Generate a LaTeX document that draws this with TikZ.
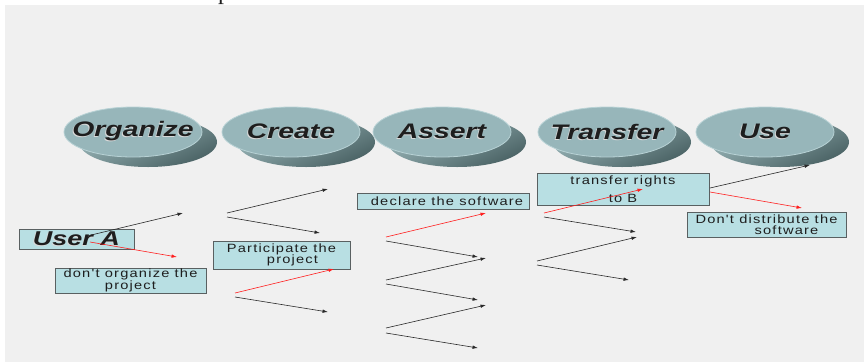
\documentclass[tikz,border=0pt]{standalone}
\usepackage{fontspec}
\setmainfont{Liberation Sans}
\newfontfamily\stagefont{Liberation Sans}[FakeStretch=1.35]
\newfontfamily\boxfont{Liberation Sans}[FakeStretch=1.22,LetterSpace=10]
\newfontfamily\headfont{Liberation Serif}
\usetikzlibrary{arrows.meta,shapes.geometric}

\definecolor{bg}{HTML}{F0F0F0}
\definecolor{boxfill}{HTML}{B8DFE3}
\definecolor{boxline}{HTML}{596061}
\definecolor{disktop}{HTML}{97B6BA}
\definecolor{diskrim}{HTML}{B8D2D5}
\definecolor{diskdark}{HTML}{4A6264}
\definecolor{disklight}{HTML}{A3C0C3}
\definecolor{ink}{HTML}{1E1E1E}
\definecolor{arrowred}{HTML}{FF1E1E}

% bold italic label with a pale offset halo
\newcommand\embossed[1]{\leavevmode\rlap{\kern-1pt\raisebox{-1pt}{\color{white!70!gray}#1}}#1}

% a stage disk: shaded base, flat top face with its label
\newcommand\stagedisk[4]{%
  \shade[top color=disklight, bottom color=diskdark, shading angle=25]
    ([xshift=15pt,yshift=-10pt]#2,#3) ellipse [x radius=69pt, y radius=25pt];
  \node[disk] (#1) at (#2,#3) {\makebox[0pt]{\embossed{#4}}};
}

\begin{document}
\begin{tikzpicture}[x=1pt,y=-1pt,
  disk/.style={ellipse, fill=disktop, draw=diskrim, line width=0.8pt,
    minimum width=138pt, minimum height=50pt, inner sep=0pt,
    font=\stagefont\bfseries\itshape\fontsize{21}{21}\selectfont, text=ink},
  infobox/.style={draw=boxline, fill=boxfill, line width=1pt, inner sep=0pt,
    align=center, text=ink, font=\boxfont\fontsize{12}{11.5}\selectfont},
  flow/.style={draw=ink!95, line width=0.6pt, -{Latex[length=5.5pt,width=3.5pt]}},
  veto/.style={flow, draw=arrowred, color=arrowred}]

\useasboundingbox (0,0) rectangle (864,362);
\clip (0,0) rectangle (864,362);
\fill[white] (0,0) rectangle (864,362);
\node[font=\headfont\fontsize{24}{24}\selectfont, anchor=base west, inner sep=0pt, text=ink]
  (headtail) at (218,-0.5) {p};
\fill[bg] (5,5) rectangle (864,362);

% stage disks
\stagedisk{organize}{133}{132}{Organize}
\stagedisk{create}{291}{132}{Create}
\stagedisk{assert}{442}{132}{Assert}
\stagedisk{transfer}{607}{132}{Transfer}
\stagedisk{use}{765}{132}{Use}

% decision boxes
\node[infobox, minimum width=115pt, minimum height=20pt,
  font=\stagefont\bfseries\itshape\fontsize{20}{20}\selectfont] (usera) at (76.5,239) {\embossed{User A}};
\node[infobox, minimum width=151pt, minimum height=25pt] (noorg) at (130.5,280.5)
  {don't organize the\\project};
\node[infobox, minimum width=137pt, minimum height=28pt] (particip) at (281.5,255)
  {Participate the\\\hspace*{22pt}project};
\node[infobox, minimum width=172pt, minimum height=16pt] (declare) at (443,201)
  {\hspace*{8pt}declare the software};
\node[infobox, minimum width=172pt, minimum height=32pt,
  font=\boxfont\fontsize{12}{18}\selectfont] (rights) at (623,189)
  {transfer rights\\to B};
\node[infobox, minimum width=159pt, minimum height=25pt] (nodist) at (766.5,224.5)
  {Don't distribute the\\\hspace*{40pt}software};

% connector end points
\coordinate (a1s) at (87,236);  \coordinate (a1e) at (183,213);
\coordinate (a2s) at (90,242);  \coordinate (a2e) at (177,257);
\coordinate (b1s) at (227,213); \coordinate (b1e) at (328,189);
\coordinate (b2s) at (227,217); \coordinate (b2e) at (320,233);
\coordinate (b3s) at (235,293); \coordinate (b3e) at (334,269);
\coordinate (b4s) at (235,297); \coordinate (b4e) at (328,312);
\coordinate (c1s) at (386,237); \coordinate (c1e) at (486,213);
\coordinate (c2s) at (386,241); \coordinate (c2e) at (478,257);
\coordinate (c3s) at (386,280); \coordinate (c3e) at (486,258);
\coordinate (c4s) at (386,284); \coordinate (c4e) at (478,300);
\coordinate (c5s) at (386,328); \coordinate (c5e) at (486,305);
\coordinate (c6s) at (386,333); \coordinate (c6e) at (478,348);
\coordinate (d1s) at (544,213); \coordinate (d1e) at (643,189);
\coordinate (d2s) at (544,217); \coordinate (d2e) at (636,232);
\coordinate (d3s) at (537,261); \coordinate (d3e) at (637,237);
\coordinate (d4s) at (537,265); \coordinate (d4e) at (629,280);
\coordinate (e1s) at (710,188); \coordinate (e1e) at (810,165);
\coordinate (e2s) at (710,192); \coordinate (e2e) at (802,208);

% choices between stages
\draw[flow] (a1s) -- (a1e);
\draw[veto] (a2s) -- (a2e);
\draw[flow] (b1s) -- (b1e);
\draw[flow] (b2s) -- (b2e);
\draw[veto] (b3s) -- (b3e);
\draw[flow] (b4s) -- (b4e);
\draw[veto] (c1s) -- (c1e);
\draw[flow] (c2s) -- (c2e);
\draw[flow] (c3s) -- (c3e);
\draw[flow] (c4s) -- (c4e);
\draw[flow] (c5s) -- (c5e);
\draw[flow] (c6s) -- (c6e);
\draw[veto] (d1s) -- (d1e);
\draw[flow] (d2s) -- (d2e);
\draw[flow] (d3s) -- (d3e);
\draw[flow] (d4s) -- (d4e);
\draw[flow] (e1s) -- (e1e);
\draw[veto] (e2s) -- (e2e);
\end{tikzpicture}
\end{document}
